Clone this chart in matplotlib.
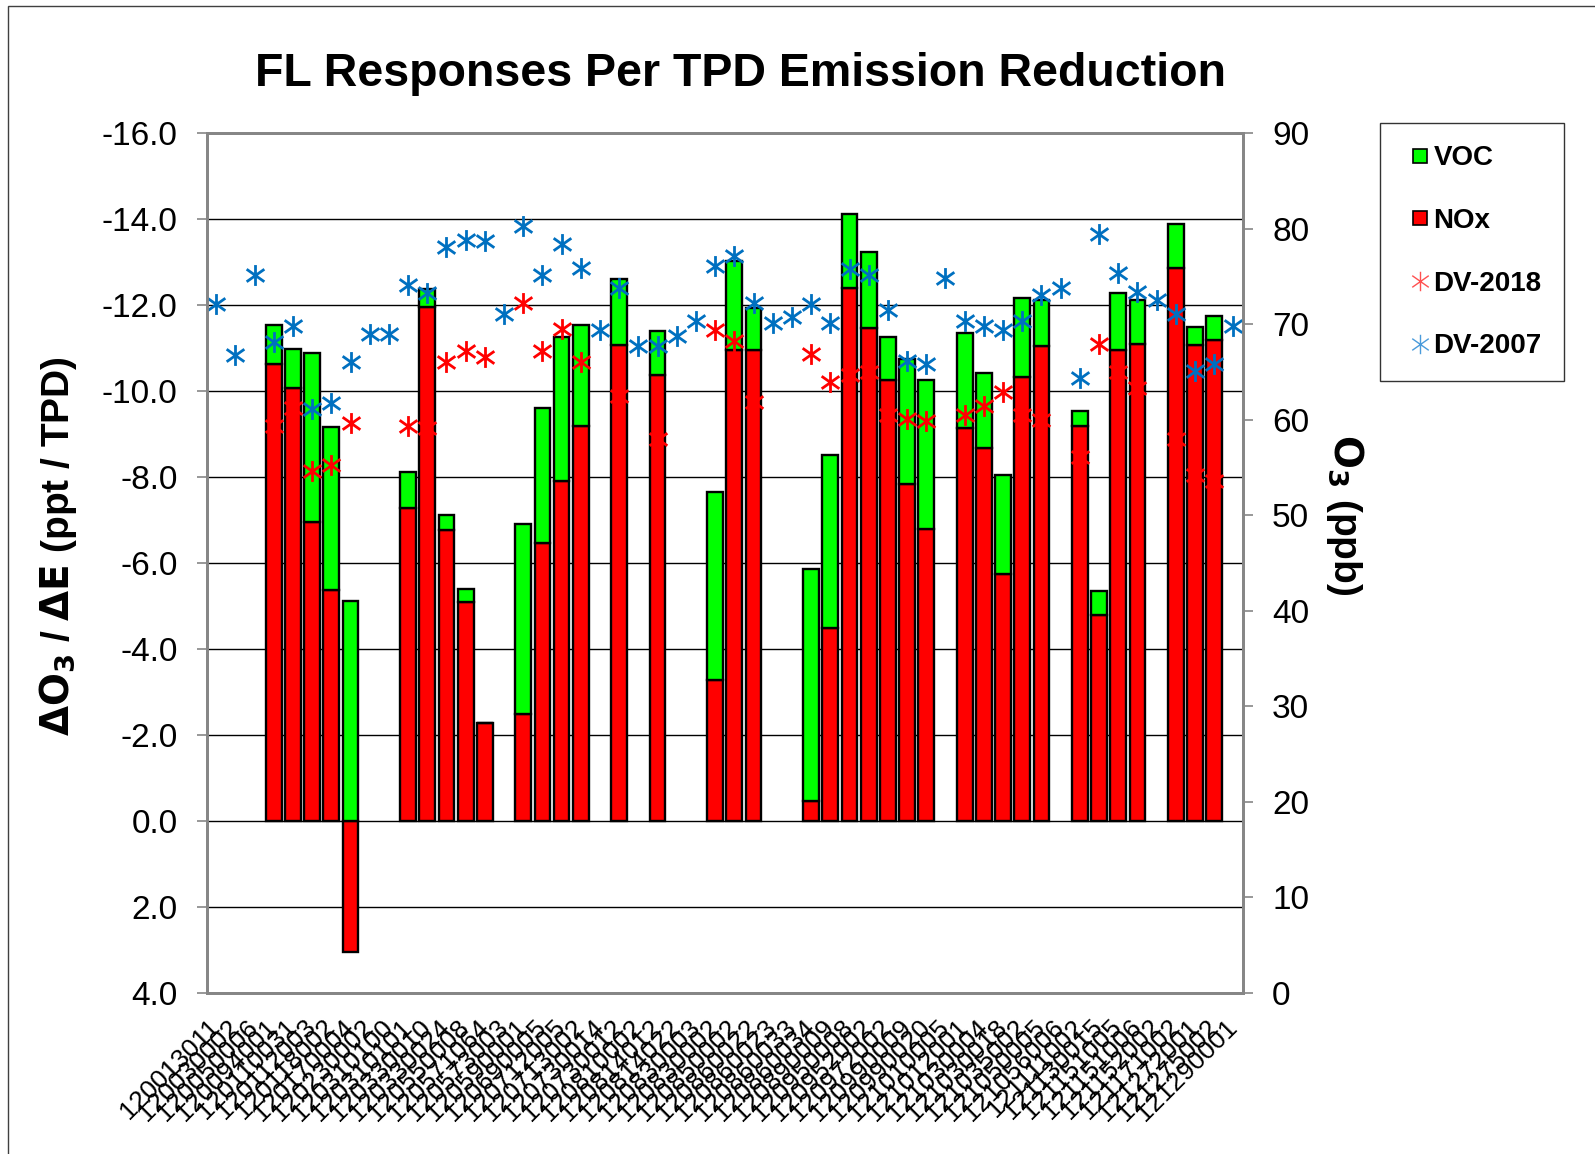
# -*- coding: utf-8 -*-
"""
FL ozone responses per TPD emission reduction (VOC / NOx) with design values.
"""

import numpy as np
import matplotlib
matplotlib.use("Agg")
import matplotlib.pyplot as plt
from matplotlib.path import Path
from matplotlib.lines import Line2D
from matplotlib.patches import Rectangle

plt.rcParams["font.family"] = ["Liberation Sans", "DejaVu Sans"]

# =============================================================================
# 1. DATA
# =============================================================================

nan = np.nan

SITES = [
    "120013011", "120030002", "120050006", "120094001", "120110031", "120112003",
    "120118002", "120170004", "120230002", "120310100", "120310101", "120330010",
    "120330024", "120550008", "120571064", "120573003", "120590001", "120690005",
    "120712005", "120713002", "120730014", "120730012", "120810002", "120814012",
    "120814022", "120830003", "120830002", "120850002", "120860022", "120860023",
    "120860033", "120860034", "120890009", "120950008", "120952002", "120972002",
    "120990009", "120990020", "121010005", "121012001", "121030004", "121030018",
    "121035002", "121050005", "121056006", "121111002", "121130015", "121151005",
    "121151006", "121152002", "121171002", "121272001", "121275002", "121290001",
]

# Delta O3 / Delta E (ppt / TPD); negative = ozone decrease
NOX = [
    nan, nan, nan, -10.63, -10.07, -6.95, -5.38, 3.05, nan, nan,
    -7.28, -11.95, -6.76, -5.10, -2.27, nan, -2.48, -6.47, -7.91, -9.20,
    nan, -11.07, nan, -10.37, nan, nan, -3.29, -10.96, -10.95, nan,
    nan, -0.46, -4.48, -12.40, -11.48, -10.25, -7.84, -6.80, nan, -9.14,
    -8.68, -5.75, -10.34, -11.05, nan, -9.20, -4.80, -10.96, -11.10, nan,
    -12.87, -11.08, -11.18, nan,
]
VOC = [
    nan, nan, nan, -0.90, -0.92, -3.94, -3.79, -5.11, nan, nan,
    -0.84, -0.43, -0.36, -0.31, 0.00, nan, -4.43, -3.14, -3.35, -2.33,
    nan, -1.53, nan, -1.02, nan, nan, -4.37, -2.07, -0.98, nan,
    nan, -5.40, -4.04, -1.73, -1.76, -1.01, -2.90, -3.45, nan, -2.21,
    -1.75, -2.30, -1.82, -1.07, nan, -0.33, -0.56, -1.32, -1.02, nan,
    -1.03, -0.41, -0.56, nan,
]

# Design values (ppb)
DV_2018 = [
    nan, nan, nan, 59.4, 61.2, 54.6, 55.3, 59.7, nan, nan,
    59.4, 59.2, 66.1, 67.2, 66.6, nan, 72.2, 67.2, 69.5, 66.1,
    nan, 62.5, nan, 58.0, nan, nan, 69.4, 68.3, 61.9, nan,
    nan, 66.9, 64.0, 64.7, 65.0, 60.5, 60.1, 59.9, nan, 60.5,
    61.5, 62.9, 60.5, 60.0, nan, 56.1, 67.9, 65.0, 63.3, nan,
    58.0, 54.2, 53.6, nan,
]
DV_2007 = [
    72.1, 66.8, 75.2, 68.1, 69.8, 61.1, 61.8, 66.1, 69.0, 69.0,
    74.1, 73.3, 78.1, 78.8, 78.7, 71.1, 80.3, 75.2, 78.4, 75.9,
    69.4, 73.8, 67.7, 67.7, 68.8, 70.3, 76.1, 77.2, 72.2, 70.1,
    70.8, 72.1, 70.1, 75.8, 75.2, 71.5, 66.2, 65.8, 74.8, 70.3,
    69.8, 69.4, 70.3, 73.1, 73.8, 64.4, 79.5, 75.4, 73.4, 72.5,
    71.1, 65.1, 65.8, 69.8,
]

# =============================================================================
# 2. STYLE
# =============================================================================

C_VOC = "#00FF00"
C_NOX = "#FF0000"
C_DV18 = "#FF0000"
C_DV07 = "#0070C0"
C_AXIS = "#868686"

# Excel-like star marker: vertical bar + X
STAR = Path(
    [(0, -1), (0, 1), (-0.85, -0.6), (0.85, 0.6), (-0.85, 0.6), (0.85, -0.6)],
    [Path.MOVETO, Path.LINETO, Path.MOVETO, Path.LINETO, Path.MOVETO, Path.LINETO],
)

# =============================================================================
# 3. PLOT
# =============================================================================

fig = plt.figure(figsize=(15.95, 11.54), dpi=100, facecolor="white")
ax = fig.add_axes([0.1295, 0.1395, 0.6498, 0.745])
ax2 = ax.twinx()

x = np.arange(len(SITES))
nox = np.array(NOX)
voc = np.array(VOC)
has_bar = ~np.isnan(nox)
voc_bottom = np.where(nox < 0, nox, 0.0)

ax.bar(x[has_bar], nox[has_bar], width=0.82, color=C_NOX,
       edgecolor="black", linewidth=1.7, zorder=2)
ax.bar(x[has_bar], voc[has_bar], bottom=voc_bottom[has_bar], width=0.82,
       color=C_VOC, edgecolor="black", linewidth=1.7, zorder=2)

ax2.plot(x, DV_2018, linestyle="none", marker=STAR, markersize=15,
         markeredgewidth=2.0, markeredgecolor=C_DV18, markerfacecolor="none")
ax2.plot(x, DV_2007, linestyle="none", marker=STAR, markersize=15,
         markeredgewidth=2.0, markeredgecolor=C_DV07, markerfacecolor="none")

# Left axis (inverted)
ax.set_xlim(-0.5, len(SITES) - 0.5)
ax.set_ylim(4, -16)
ax.set_yticks(np.arange(-16, 5, 2))
ax.set_yticklabels([f"{v:.1f}" for v in np.arange(-16, 5, 2)])
ax.grid(True, axis="y", color="black", linewidth=1.0, zorder=0)
ax.set_axisbelow(True)

ax.set_xticks(x)
ax.set_xticklabels(SITES, rotation=45, ha="right", va="center",
                   rotation_mode="anchor", fontsize=19)
ax.tick_params(axis="x", length=0, pad=22)
ax.tick_params(axis="y", labelsize=24, length=7, width=1.2,
               color=C_AXIS, pad=14)

# Right axis
ax2.set_ylim(0, 90)
ax2.set_yticks(np.arange(0, 91, 10))
ax2.tick_params(axis="y", labelsize=24, length=7, width=1.2,
                color=C_AXIS, pad=14)

for a in (ax, ax2):
    for s in a.spines.values():
        s.set_color(C_AXIS)
        s.set_linewidth(2.0)

ax.set_ylabel(r"$\mathbf{\Delta O_3}$ / $\mathbf{\Delta E}$ (ppt / TPD)",
              fontsize=28, fontweight="bold")
ax.yaxis.set_label_coords(-0.123, 0.52)
ax2.set_ylabel(r"$\mathbf{O_3}$ (ppb)", fontsize=28, fontweight="bold",
               rotation=270, labelpad=30)
ax2.yaxis.set_label_coords(1.119, 0.556)

fig.text(0.464, 0.936, "FL Responses Per TPD Emission Reduction",
         ha="center", va="center", fontsize=33.5, fontweight="bold")

# =============================================================================
# 4. LEGEND
# =============================================================================

handles = [
    Line2D([0], [0], linestyle="none", marker="s", markersize=10.5,
           markerfacecolor=C_VOC, markeredgecolor="black", markeredgewidth=1.2,
           label="VOC"),
    Line2D([0], [0], linestyle="none", marker="s", markersize=10.5,
           markerfacecolor=C_NOX, markeredgecolor="black", markeredgewidth=1.2,
           label="NOx"),
    Line2D([0], [0], linestyle="none", marker=STAR, markersize=14,
           markeredgewidth=1.0, markeredgecolor="#FF5050",
           markerfacecolor="none", label="DV-2018"),
    Line2D([0], [0], linestyle="none", marker=STAR, markersize=14,
           markeredgewidth=1.0, markeredgecolor="#4A9BDB",
           markerfacecolor="none", label="DV-2007"),
]
leg = fig.legend(handles=handles, loc="upper left",
                 bbox_to_anchor=(0.865, 0.8934), borderaxespad=0,
                 prop={"size": 20, "weight": "bold"}, frameon=True,
                 fancybox=False, edgecolor="black", handlelength=1.33,
                 handletextpad=-0.19, labelspacing=1.32, borderpad=0.8)
leg.get_frame().set_linewidth(1.0)

# Chart-area border
fig.patches.append(Rectangle((0.005, -0.05), 1.2, 1.0448, transform=fig.transFigure,
                             fill=False, edgecolor="#404040", linewidth=1.0))

# =============================================================================
# 5. EXPORT
# =============================================================================

fig.savefig("out.png", dpi=100, facecolor="white")
